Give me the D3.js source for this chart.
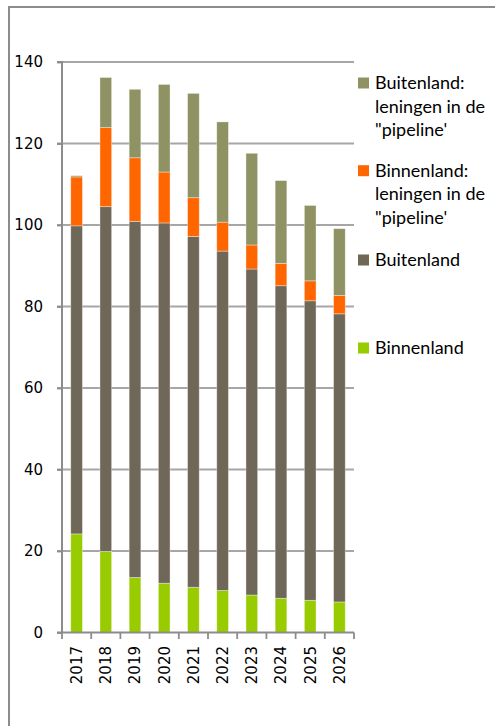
<!DOCTYPE html>
<html>
<head>
<meta charset="utf-8">
<script src="https://cdn.jsdelivr.net/npm/d3@7"></script>
<style>
  html, body { margin: 0; padding: 0; background: #fff; }
  svg { display: block; }
</style>
</head>
<body>
<svg id="chart" width="495" height="726"></svg>
<script>
// ---- data ----
const years = ["2017","2018","2019","2020","2021","2022","2023","2024","2025","2026"];
const binnenland = [24.2, 19.9, 13.5, 12.1, 11.1, 10.3, 9.2, 8.4, 7.9, 7.5];
const buitenland = [75.6, 84.6, 87.4, 88.4, 86.1, 83.3, 80.0, 76.7, 73.5, 70.7];
const binnenlandPipeline = [12.0, 19.4, 15.6, 12.5, 9.5, 7.1, 5.9, 5.5, 4.9, 4.5];
const buitenlandPipeline = [0.3, 12.3, 16.8, 21.5, 25.6, 24.6, 22.5, 20.3, 18.5, 16.4];
const yTicks = [0, 20, 40, 60, 80, 100, 120, 140];
const seriesNames = ["Binnenland", "Buitenland", "Binnenland: leningen in de \"pipeline'", "Buitenland: leningen in de \"pipeline'"];
const seriesColors = ["#99CC00", "#6F6757", "#FF6600", "#8F9263"];
const legendLines = [
  ["Buitenland:", "leningen in de", "\"pipeline'"],
  ["Binnenland:", "leningen in de", "\"pipeline'"],
  ["Buitenland"],
  ["Binnenland"]
];
const legendSeries = [3, 2, 1, 0];

// ---- build table ----
const seriesValues = [binnenland, buitenland, binnenlandPipeline, buitenlandPipeline];
const keys = seriesValues.map((_, i) => "s" + i);
const table = years.map((y, j) => {
  const row = { year: y };
  seriesValues.forEach((arr, i) => row[keys[i]] = arr[j]);
  return row;
});
const stacked = d3.stack().keys(keys)(table);

const svg = d3.select("#chart");
const axisColor = "#8C8C8C";

// outer frame
svg.append("rect")
  .attr("x", 9).attr("y", 7)
  .attr("width", 500).attr("height", 740)
  .attr("fill", "none").attr("stroke", axisColor).attr("stroke-width", 2);

const x = d3.scaleBand().domain(years).range([62, 354]).paddingInner(0.6).paddingOuter(0.3);
const y = d3.scaleLinear().domain([0, 140]).range([632.5, 62]);

// gridlines
svg.append("g").selectAll("line").data(yTicks.filter(d => d > 0)).join("line")
  .attr("x1", 57).attr("x2", 354)
  .attr("y1", d => y(d)).attr("y2", d => y(d))
  .attr("stroke", "#A6A6A6").attr("stroke-width", 1.8);

// bars
svg.append("g").selectAll("g").data(stacked).join("g")
  .attr("fill", (d, i) => seriesColors[i])
  .selectAll("rect").data(d => d).join("rect")
  .attr("x", d => x(d.data.year))
  .attr("width", x.bandwidth())
  .attr("y", d => y(d[1]))
  .attr("height", d => y(d[0]) - y(d[1]))
  .attr("stroke", "#ffffff").attr("stroke-opacity", 0.45).attr("stroke-width", 0.8);

// y axis
const yAxis = svg.append("g")
  .attr("transform", "translate(62,0)")
  .call(d3.axisLeft(y).tickValues(yTicks).tickSize(5).tickPadding(14).tickFormat(d3.format("d")));
yAxis.select(".domain").attr("stroke", axisColor).attr("stroke-width", 2).attr("d", `M-5,${y(140)}H0V${y(0)}`);
yAxis.selectAll(".tick line").attr("stroke", axisColor).attr("stroke-width", 1.8);
yAxis.selectAll(".tick text")
  .attr("fill", "#000")
  .style("font-family", "'DejaVu Sans', Verdana, sans-serif")
  .style("font-size", "15px");

// x axis baseline and boundary ticks
const xr = x.range();
svg.append("line")
  .attr("x1", 57).attr("x2", xr[1])
  .attr("y1", y(0)).attr("y2", y(0))
  .attr("stroke", axisColor).attr("stroke-width", 2);
const bounds = d3.range(years.length + 1).map(i => xr[0] + i * x.step());
svg.append("g").selectAll("line").data(bounds).join("line")
  .attr("x1", d => d).attr("x2", d => d)
  .attr("y1", y(0)).attr("y2", y(0) + 6.5)
  .attr("stroke", axisColor).attr("stroke-width", 1.8);

// x labels rotated
svg.append("g").selectAll("text").data(years).join("text")
  .attr("transform", d => `translate(${x(d) + x.bandwidth() / 2},646) rotate(-90)`)
  .attr("text-anchor", "end")
  .attr("dy", "0.36em")
  .attr("fill", "#000")
  .style("font-family", "'DejaVu Sans', Verdana, sans-serif")
  .style("font-size", "15px")
  .text(d => d);

// legend
const legendBaselines = [89, 176.7, 266, 354];
const lineGap = 23.5;
const lg = svg.append("g");
legendLines.forEach((lines, i) => {
  const b = legendBaselines[i];
  lg.append("rect")
    .attr("x", 358).attr("y", b - 11.5)
    .attr("width", 11).attr("height", 11)
    .attr("fill", seriesColors[legendSeries[i]]);
  const t = lg.append("text")
    .attr("x", 375).attr("y", b)
    .attr("fill", "#000")
    .style("font-family", "Lato, 'Open Sans', sans-serif")
    .style("font-size", "18px");
  lines.forEach((ln, k) => {
    t.append("tspan").attr("x", 375).attr("y", b + k * lineGap).text(ln);
  });
});
</script>
</body>
</html>
